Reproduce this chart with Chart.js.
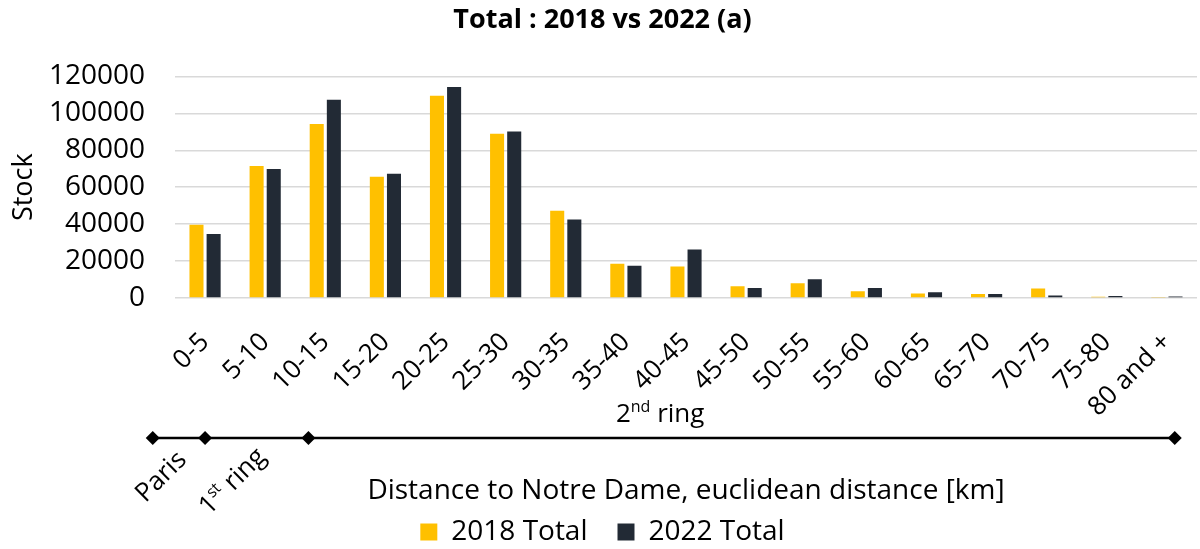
<!DOCTYPE html>
<html>
<head>
<meta charset="utf-8">
<script src="https://cdn.jsdelivr.net/npm/chart.js@4.4.1/dist/chart.umd.min.js"></script>
<style>
  html, body { margin: 0; padding: 0; background: #fff; }
  #wrap { width: 1200px; height: 549px; }
</style>
</head>
<body>
<div id="wrap"><canvas id="stock" width="1200" height="549"></canvas></div>
<script>
const categories = ['0-5', '5-10', '10-15', '15-20', '20-25', '25-30', '30-35', '35-40', '40-45',
  '45-50', '50-55', '55-60', '60-65', '65-70', '70-75', '75-80', '80 and +'];
const total2018 = [39600, 71500, 94200, 65700, 109500, 89000, 47300, 18600, 17000,
  6300, 8000, 3600, 2400, 2200, 5100, 700, 500];
const total2022 = [34700, 69900, 107300, 67300, 114200, 90100, 42500, 17500, 26200,
  5400, 10100, 5400, 3100, 2200, 1300, 1100, 800];
const yTicks = [0, 20000, 40000, 60000, 80000, 100000, 120000];

const FONT = "'Open Sans', 'Noto Sans', sans-serif";

// ring markers along the distance line, in category units from the first tick
const ringMarks = [-0.87, 0, 1.72, 16.13];

const ringPlugin = {
  id: 'rings',
  afterDraw(chart) {
    const ctx = chart.ctx;
    const x = chart.scales.x;
    const step = x.getPixelForValue(1) - x.getPixelForValue(0);
    const x0 = x.getPixelForValue(0);
    const px = ringMarks.map(m => x0 + m * step);
    const y = 438;
    ctx.save();
    ctx.strokeStyle = '#000';
    ctx.lineWidth = 2.5;
    ctx.beginPath();
    ctx.moveTo(px[0], y);
    ctx.lineTo(px[px.length - 1], y);
    ctx.stroke();
    ctx.fillStyle = '#000';
    px.forEach(p => {
      ctx.beginPath();
      ctx.moveTo(p, y - 7);
      ctx.lineTo(p + 7, y);
      ctx.lineTo(p, y + 7);
      ctx.lineTo(p - 7, y);
      ctx.closePath();
      ctx.fill();
    });

    // text with superscript helper
    const drawSup = (parts, align) => {
      const big = '26px ' + FONT, small = '16px ' + FONT;
      let w = 0;
      parts.forEach(p => { ctx.font = p.sup ? small : big; w += ctx.measureText(p.t).width; });
      let cx = align === 'right' ? -w : -w / 2;
      parts.forEach(p => {
        ctx.font = p.sup ? small : big;
        ctx.fillText(p.t, cx, p.sup ? -10 : 0);
        cx += ctx.measureText(p.t).width;
      });
    };
    ctx.textBaseline = 'alphabetic';
    ctx.textAlign = 'left';

    // 2nd ring label
    ctx.save();
    ctx.translate(x0 + 7.57 * step, 422);
    drawSup([{ t: '2' }, { t: 'nd', sup: true }, { t: ' ring' }], 'center');
    ctx.restore();

    // Paris
    ctx.save();
    ctx.translate(px[0] + 35, y + 23);
    ctx.rotate(-Math.PI / 4);
    drawSup([{ t: 'Paris' }], 'right');
    ctx.restore();

    // 1st ring
    ctx.save();
    ctx.translate(px[1] + 62, y + 20);
    ctx.rotate(-Math.PI / 4);
    drawSup([{ t: '1' }, { t: 'st', sup: true }, { t: ' ring' }], 'right');
    ctx.restore();

    ctx.restore();
  }
};

new Chart(document.getElementById('stock'), {
  type: 'bar',
  data: {
    labels: categories,
    datasets: [
      { label: '2018 Total', data: total2018, backgroundColor: '#FFC000' },
      { label: '2022 Total', data: total2022, backgroundColor: '#222A35' }
    ]
  },
  options: {
    responsive: false,
    animation: false,
    events: [],
    datasets: { bar: { categoryPercentage: 0.57, barPercentage: 0.82 } },
    layout: { padding: { left: 8, right: 3, top: 0, bottom: -7 } },
    plugins: {
      title: {
        display: true,
        text: 'Total : 2018 vs 2022 (a)',
        color: '#000',
        font: { family: FONT, size: 27, weight: 'bold' },
        padding: { top: 4, bottom: 40 }
      },
      legend: {
        position: 'bottom',
        labels: {
          color: '#000',
          font: { family: FONT, size: 28 },
          boxWidth: 17, boxHeight: 17,
          padding: 2,
          generateLabels(chart) {
            const items = Chart.defaults.plugins.legend.labels.generateLabels(chart);
            items.forEach((it, i) => { if (i < items.length - 1) it.text += '\u2003'; });
            return items;
          }
        }
      },
      tooltip: { enabled: false }
    },
    scales: {
      x: {
        grid: { display: false },
        border: { display: false },
        afterFit(axis) { axis.paddingLeft = 0; axis.paddingRight = 0; axis.height = 218; },
        ticks: {
          color: '#000',
          font: { family: FONT, size: 26 },
          minRotation: 45, maxRotation: 45,
          autoSkip: false,
          padding: 21
        },
        title: {
          display: true,
          text: 'Distance to Notre Dame, euclidean distance [km]',
          color: '#000',
          font: { family: FONT, size: 28 },
          padding: { top: 10, bottom: 8 }
        }
      },
      y: {
        min: 0, max: 120000,
        afterBuildTicks(axis) { axis.ticks = yTicks.map(v => ({ value: v })); },
        afterFit(axis) { axis.width = 167; },
        grid: { color: '#d9d9d9', lineWidth: 1.5, drawTicks: false },
        border: { display: false },
        ticks: {
          color: '#000',
          font: { family: FONT, size: 28 },
          padding: 30,
          autoSkip: false,
          callback: v => String(v)
        },
        title: {
          display: true,
          text: 'Stock',
          color: '#000',
          font: { family: FONT, size: 27 },
          padding: { top: 0, bottom: 12 }
        }
      }
    }
  },
  plugins: [ringPlugin]
});
</script>
</body>
</html>
